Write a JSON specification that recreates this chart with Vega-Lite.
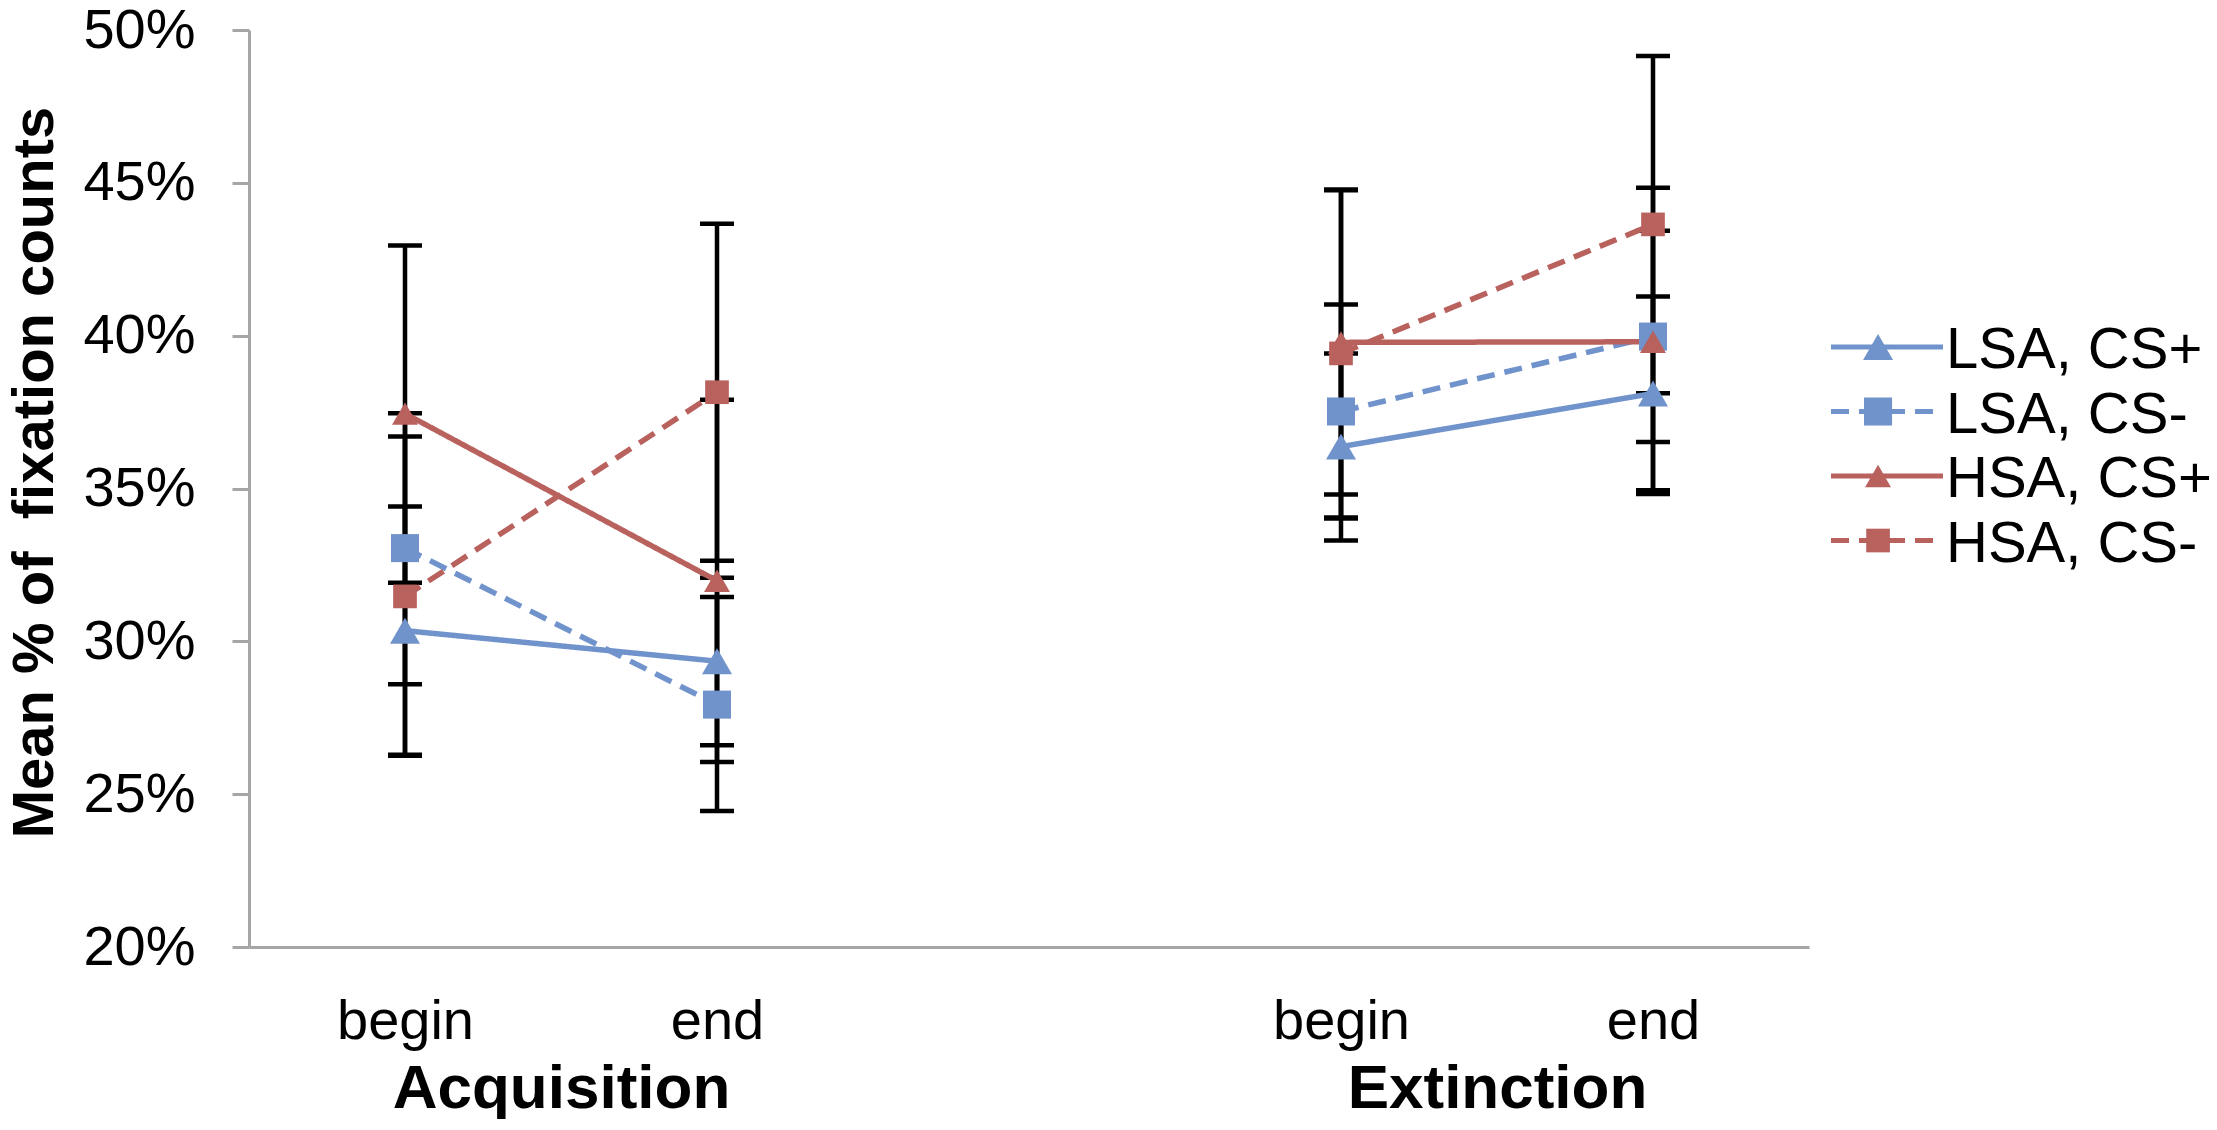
{
  "$schema": "https://vega.github.io/schema/vega-lite/v6.json",
  "padding": {"left": 5, "top": 2, "right": 0, "bottom": 0},
  "background": "white",
  "config": {
    "font": "Liberation Sans",
    "view": {"stroke": null}
  },
  "spacing": 19,
  "resolve": {"scale": {"x": "independent", "y": "independent"}},
  "hconcat": [
    {
      "width": 1560,
      "height": 917,
      "data": {
        "values": [
          {"series": "LSA, CS+", "phase": "Acquisition", "x": 1, "mean": 30.35, "lo": 26.29, "hi": 34.41},
          {"series": "LSA, CS+", "phase": "Acquisition", "x": 2, "mean": 29.35, "lo": 26.6, "hi": 32.08},
          {"series": "LSA, CS+", "phase": "Extinction", "x": 4, "mean": 36.37, "lo": 33.3, "hi": 39.42},
          {"series": "LSA, CS+", "phase": "Extinction", "x": 5, "mean": 38.11, "lo": 34.94, "hi": 41.28},
          {"series": "LSA, CS-", "phase": "Acquisition", "x": 1, "mean": 33.05, "lo": 28.6, "hi": 37.46},
          {"series": "LSA, CS-", "phase": "Acquisition", "x": 2, "mean": 27.93, "lo": 24.45, "hi": 31.45},
          {"series": "LSA, CS-", "phase": "Extinction", "x": 4, "mean": 37.52, "lo": 34.02, "hi": 41.02},
          {"series": "LSA, CS-", "phase": "Extinction", "x": 5, "mean": 39.97, "lo": 36.52, "hi": 43.43},
          {"series": "HSA, CS+", "phase": "Acquisition", "x": 1, "mean": 37.45, "lo": 31.92, "hi": 42.95},
          {"series": "HSA, CS+", "phase": "Acquisition", "x": 2, "mean": 31.98, "lo": 26.05, "hi": 37.9},
          {"series": "HSA, CS+", "phase": "Extinction", "x": 4, "mean": 39.78, "lo": 34.8, "hi": 44.76},
          {"series": "HSA, CS+", "phase": "Extinction", "x": 5, "mean": 39.8, "lo": 34.82, "hi": 44.84},
          {"series": "HSA, CS-", "phase": "Acquisition", "x": 1, "mean": 31.47, "lo": 26.26, "hi": 36.7},
          {"series": "HSA, CS-", "phase": "Acquisition", "x": 2, "mean": 38.15, "lo": 32.64, "hi": 43.66},
          {"series": "HSA, CS-", "phase": "Extinction", "x": 4, "mean": 39.42, "lo": 34.05, "hi": 44.78},
          {"series": "HSA, CS-", "phase": "Extinction", "x": 5, "mean": 43.64, "lo": 38.12, "hi": 49.15}
        ]
      },
      "encoding": {
        "x": {
          "field": "x",
          "type": "quantitative",
          "scale": {"domain": [0.5, 5.5], "nice": false, "zero": false},
          "axis": {
            "title": null,
            "values": [1, 1.5, 2, 4, 4.5, 5],
            "labelExpr": "datum.value == 1 || datum.value == 4 ? 'begin' : (datum.value == 2 || datum.value == 5 ? 'end' : (datum.value == 1.5 ? 'Acquisition' : 'Extinction'))",
            "grid": false,
            "ticks": false,
            "tickSize": 0,
            "domainColor": "#a6a6a6",
            "domainWidth": 3,
            "labelColor": "black",
            "labelLimit": 0,
            "labelFontSize": {"condition": {"test": "datum.value == 1.5 || datum.value == 4.5", "value": 62}, "value": 56},
            "labelFontWeight": {"condition": {"test": "datum.value == 1.5 || datum.value == 4.5", "value": "bold"}, "value": "normal"},
            "labelPadding": {"condition": {"test": "datum.value == 1.5 || datum.value == 4.5", "value": 160}, "value": 91},
            "labelBaseline": "alphabetic",
            "labelOverlap": false,
            "labelFlush": false,
            "labelBound": false
          }
        }
      },
      "layer": [
        {
          "mark": {"type": "rule", "color": "black", "strokeWidth": 4.5},
          "encoding": {
            "y": {
              "field": "lo",
              "type": "quantitative",
              "scale": {"domain": [20, 50], "nice": false, "zero": false},
              "axis": {
                "title": "Mean % of \u00a0fixation counts",
                "values": [20, 25, 30, 35, 40, 45, 50],
                "labelExpr": "datum.value + '%'",
                "grid": false,
                "tickSize": 17,
                "tickWidth": 3,
                "tickColor": "#a6a6a6",
                "domainColor": "#a6a6a6",
                "domainWidth": 3,
                "labelFontSize": 56,
                "labelColor": "black",
                "labelPadding": 37,
                "titleFontSize": 58,
                "titleFontWeight": "bold",
                "titleColor": "black",
                "titleBaseline": "alphabetic",
                "titleX": -197,
                "titleY": 442
              }
            },
            "y2": {"field": "hi"}
          }
        },
        {
          "mark": {"type": "tick", "orient": "horizontal", "color": "black", "size": 34, "thickness": 4.5, "opacity": 1},
          "encoding": {"y": {"field": "lo", "type": "quantitative"}}
        },
        {
          "mark": {"type": "tick", "orient": "horizontal", "color": "black", "size": 34, "thickness": 4.5, "opacity": 1},
          "encoding": {"y": {"field": "hi", "type": "quantitative"}}
        },
        {
          "mark": {"type": "line", "strokeWidth": 5.5},
          "encoding": {
            "y": {"field": "mean", "type": "quantitative"},
            "color": {
              "field": "series",
              "type": "nominal",
              "scale": {"domain": ["LSA, CS+", "LSA, CS-", "HSA, CS+", "HSA, CS-"], "range": ["#7093cc", "#7093cc", "#b8615d", "#b8615d"]},
              "legend": null
            },
            "strokeDash": {
              "field": "series",
              "type": "nominal",
              "scale": {"domain": ["LSA, CS+", "LSA, CS-", "HSA, CS+", "HSA, CS-"], "range": [[1, 0], [18, 10], [1, 0], [18, 10]]},
              "legend": null
            },
            "detail": {"field": "phase"}
          }
        },
        {
          "mark": {"type": "point", "filled": true, "opacity": 1},
          "encoding": {
            "y": {"field": "mean", "type": "quantitative"},
            "color": {"field": "series", "type": "nominal", "legend": null},
            "shape": {
              "field": "series",
              "type": "nominal",
              "scale": {"domain": ["LSA, CS+", "LSA, CS-", "HSA, CS+", "HSA, CS-"], "range": ["triangle-up", "square", "triangle-up", "square"]},
              "legend": null
            },
            "size": {
              "field": "series",
              "type": "nominal",
              "scale": {"domain": ["LSA, CS+", "LSA, CS-", "HSA, CS+", "HSA, CS-"], "range": [900, 560, 900, 560]},
              "legend": null
            }
          }
        }
      ]
    },
    {
      "width": 392,
      "height": 917,
      "data": {
        "values": [
          {"series": "LSA, CS+", "rank": 1},
          {"series": "LSA, CS-", "rank": 2},
          {"series": "HSA, CS+", "rank": 3},
          {"series": "HSA, CS-", "rank": 4}
        ]
      },
      "encoding": {
        "y": {
          "field": "rank",
          "type": "quantitative",
          "scale": {"domain": [-3.915, 10.302], "nice": false, "zero": false, "reverse": true},
          "axis": null
        },
        "color": {"field": "series", "type": "nominal", "legend": null}
      },
      "layer": [
        {
          "mark": {"type": "rule", "strokeWidth": 5},
          "encoding": {
            "x": {"datum": 0, "type": "quantitative", "scale": {"domain": [0, 3.5], "nice": false}, "axis": null},
            "x2": {"datum": 1},
            "strokeDash": {"field": "series", "type": "nominal", "legend": null}
          }
        },
        {
          "mark": {"type": "point", "filled": true, "opacity": 1},
          "encoding": {
            "x": {"datum": 0.42, "type": "quantitative"},
            "shape": {"field": "series", "type": "nominal", "legend": null},
            "size": {"field": "series", "type": "nominal", "legend": null}
          }
        },
        {
          "mark": {"type": "text", "align": "left", "baseline": "middle", "dx": 3, "dy": 4, "fontSize": 58, "color": "black"},
          "encoding": {
            "x": {"datum": 1, "type": "quantitative"},
            "text": {"field": "series"},
            "color": {"value": "black"}
          }
        }
      ]
    }
  ]
}
